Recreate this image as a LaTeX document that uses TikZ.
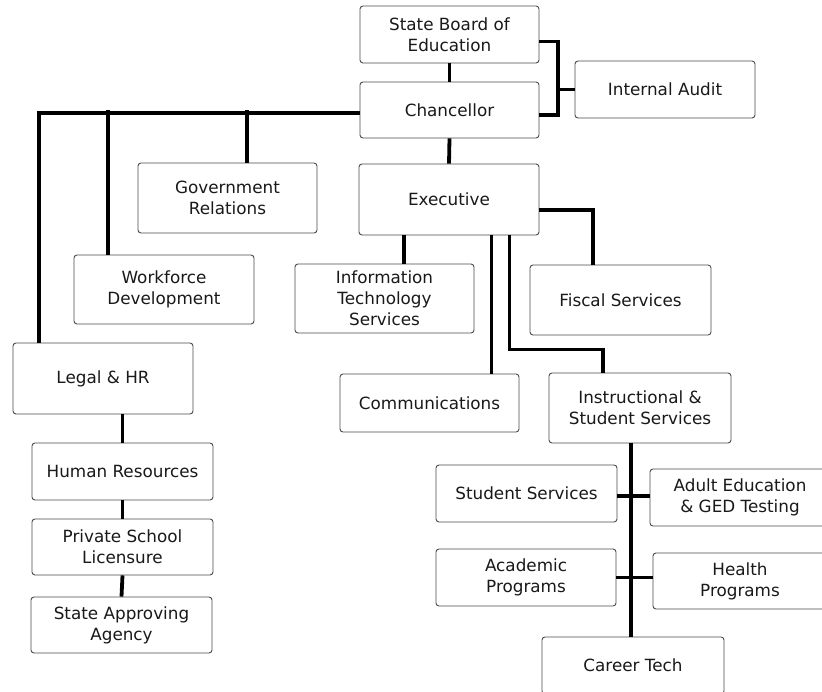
\documentclass[tikz,border=0pt]{standalone}
\usepackage{fontspec}
\setmainfont{DejaVu Sans}
\begin{document}
\begin{tikzpicture}[x=1pt,y=-1pt,
  orgbox/.style={draw=black!70,line width=0.9pt,rounded corners=3pt,align=center,
    font=\fontsize{16.8}{20.8}\selectfont,inner sep=0pt,text=black!90},
  link/.style={line width=3.8pt,black}]
\useasboundingbox (0,0) rectangle (822,692);
\fill[white] (0,0) rectangle (822,692);
\begin{scope}
\clip (0,0) rectangle (822,692);
\node[orgbox,minimum width=179pt,minimum height=57pt] (sbe) at (449.5,34.5) {State Board of\\Education};
\node[orgbox,minimum width=179pt,minimum height=56pt] (chan) at (449.5,110) {Chancellor};
\node[orgbox,minimum width=180pt,minimum height=57pt] (audit) at (665,89.5) {Internal Audit};
\node[orgbox,minimum width=179pt,minimum height=70pt] (gov) at (227.5,198) {Government\\Relations};
\node[orgbox,minimum width=180pt,minimum height=71pt] (exec) at (449,199.5) {Executive};
\node[orgbox,minimum width=180pt,minimum height=69pt] (work) at (164,289.5) {Workforce\\Development};
\node[orgbox,minimum width=179pt,minimum height=69pt] (it) at (384.5,298.5) {Information\\Technology\\Services};
\node[orgbox,minimum width=181pt,minimum height=70pt] (fisc) at (620.5,300) {Fiscal Services};
\node[orgbox,minimum width=180pt,minimum height=71pt] (legal) at (103,378.5) {Legal \& HR};
\node[orgbox,minimum width=179pt,minimum height=58pt] (comm) at (429.5,403) {Communications};
\node[orgbox,minimum width=182pt,minimum height=70pt] (instr) at (640,408) {Instructional \&\\Student Services};
\node[orgbox,minimum width=181pt,minimum height=57pt] (hr) at (122.5,471.5) {Human Resources};
\node[orgbox,minimum width=181pt,minimum height=56pt] (psl) at (122.5,547) {Private School\\Licensure};
\node[orgbox,minimum width=181pt,minimum height=56pt] (saa) at (121.5,625) {State Approving\\Agency};
\node[orgbox,minimum width=181pt,minimum height=57pt] (ss) at (526.5,493.5) {Student Services};
\node[orgbox,minimum width=180pt,minimum height=57pt] (adult) at (740,497.5) {Adult Education\\\& GED Testing};
\node[orgbox,minimum width=180pt,minimum height=57pt] (acad) at (526,577.5) {Academic\\Programs};
\node[orgbox,minimum width=174pt,minimum height=56pt] (health) at (740,581) {Health\\Programs};
\node[orgbox,minimum width=182pt,minimum height=57pt] (career) at (633,665.5) {Career Tech};

\coordinate (ja) at (558,89.5);
\draw[link] (sbe.south) -- (chan.north);
\draw[link] ([yshift=-7pt]sbe.east) -| (ja) |- ([yshift=-5pt]chan.east);
\draw[link] (ja) -- (audit.west);
\draw[link] ([yshift=-3pt]chan.west) -| ([xshift=-64pt]legal.north);
\draw[link] ([xshift=-56pt]work.north) -- ([xshift=-56pt]work.north |- chan.west);
\draw[link] ([xshift=19.5pt]gov.north) -- ([xshift=19.5pt]gov.north |- chan.west);
\draw[link] (chan.south) -- (exec.north);
\draw[link] ([xshift=19.5pt]it.north) -- ([xshift=19.5pt]it.north |- exec.south);
\draw[link] ([yshift=-10.5pt]exec.east) -| ([xshift=-27.5pt]fisc.north);
\draw[link] ([xshift=62pt]comm.north) -- ([xshift=62pt]comm.north |- exec.south);
\draw[link] ([xshift=60.5pt]exec.south) -- ++(0,114) -| ([xshift=-37pt]instr.north);
\draw[link] ([xshift=-9pt]instr.south) -- ([xshift=-9pt]instr.south |- career.north);
\draw[link] ([yshift=-2.5pt]ss.east) -- ([yshift=-2.5pt]ss.east -| adult.west);
\draw[link] (acad.east) -- (acad.east -| health.west);
\draw[link] (legal.south -| hr.north) -- (hr.north);
\draw[link] (hr.south) -- (psl.north);
\draw[link] (psl.south) -- (saa.north);
\end{scope}
\end{tikzpicture}
\end{document}
